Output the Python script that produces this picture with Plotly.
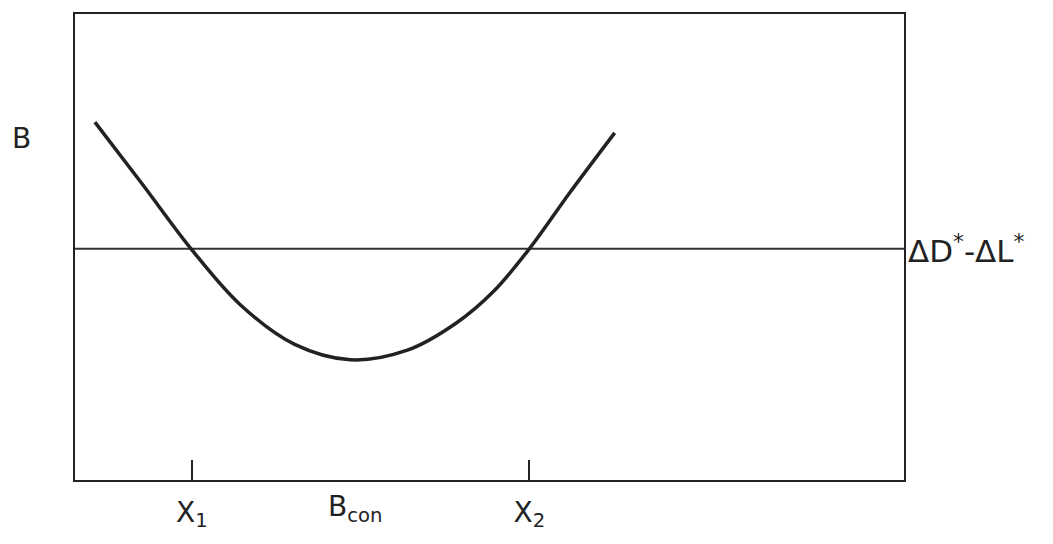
import plotly.graph_objects as go

# Curve B(x) (abstract units, x 0-100, y 0-100)
curve_x = [2.4, 8.2, 14.0, 20.0, 26.5, 33.2, 40.0, 46.0, 50.5, 54.8, 59.7, 65.1]
curve_y = [76.8, 63.3, 49.6, 37.5, 29.1, 25.8, 27.8, 33.7, 40.5, 49.6, 61.7, 74.5]

# Horizontal reference level ΔD*-ΔL*
level_y = 49.6
level_x = [0, 100]

# Marked positions on the x axis
tick_vals = [14.1, 54.8]
tick_text = ["X<sub>1</sub>", "X<sub>2</sub>"]
bcon_x = 33.8

ink = "#222222"
font_family = "DejaVu Sans, Liberation Sans, Arial, sans-serif"

fig = go.Figure()
fig.add_trace(go.Scatter(x=level_x, y=[level_y, level_y], mode="lines",
                         line=dict(color="#333333", width=2), hoverinfo="skip"))
fig.add_trace(go.Scatter(x=curve_x, y=curve_y, mode="lines",
                         line=dict(color=ink, width=3.5, shape="spline", smoothing=1.0),
                         hoverinfo="skip"))

fig.update_layout(
    width=1053, height=544,
    margin=dict(l=75, r=149, t=14, b=46),
    paper_bgcolor="white", plot_bgcolor="white",
    showlegend=False,
    font=dict(family=font_family, color=ink),
    xaxis=dict(range=[0, 100], showgrid=False, zeroline=False,
               showline=True, mirror=True, linecolor=ink, linewidth=2,
               tickvals=tick_vals, ticktext=tick_text,
               ticks="inside", ticklen=20, tickwidth=2, tickcolor=ink,
               ticklabelstandoff=6,
               tickfont=dict(size=28, color=ink)),
    yaxis=dict(range=[0, 100], showgrid=False, zeroline=False,
               showline=True, mirror=True, linecolor=ink, linewidth=2,
               showticklabels=False, ticks=""),
    annotations=[
        dict(x=bcon_x, y=0, xref="x", yref="y", yanchor="top", xanchor="center",
             yshift=-8, text="B<sub>con</sub>", showarrow=False,
             font=dict(size=28, color=ink)),
        dict(x=0, y=73.3, xref="x", yref="y", xanchor="right", yanchor="middle",
             xshift=-42, text="B", showarrow=False,
             font=dict(size=28, color=ink)),
        dict(x=100, y=level_y, xref="x", yref="y", xanchor="left", yanchor="middle",
             xshift=2, text="ΔD<sup>*</sup>-ΔL<sup>*</sup>", showarrow=False,
             font=dict(size=31, color=ink)),
    ],
)

fig.write_html("out.html")
